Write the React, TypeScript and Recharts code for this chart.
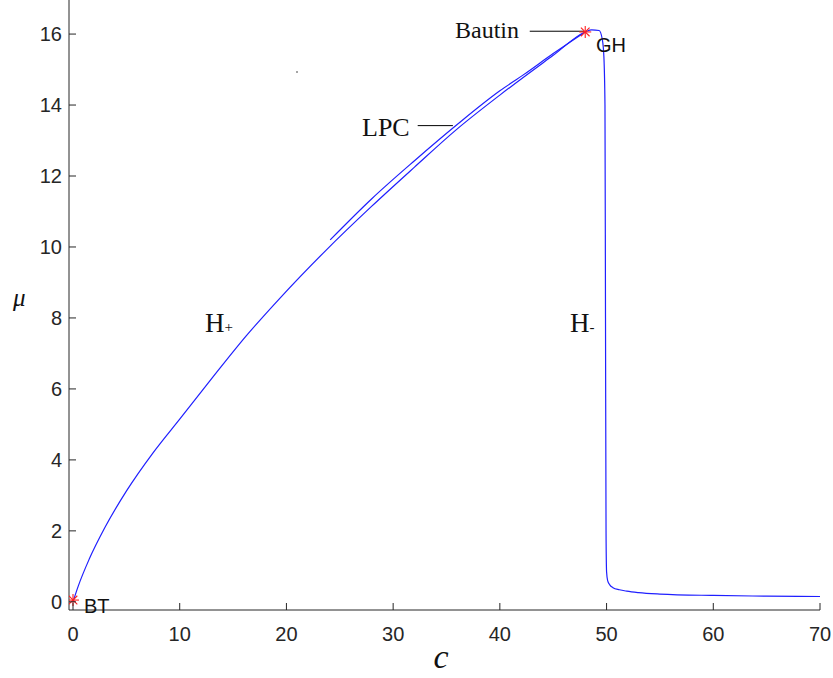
import { ComposedChart, Line, XAxis, YAxis, ReferenceLine } from "recharts";

// Hopf curve: BT -> GH (H+), then the steep drop (H-) and the flat tail
const hopfC = [0, 0.5, 1.5, 3, 5, 7.5, 10, 13.1, 16.25, 19.4, 23.75, 28, 32, 35.9, 40, 45, 48.0, 48.6, 49.3, 49.6, 49.75, 49.85, 49.9, 49.95, 50.0, 50.1, 50.3, 50.6, 51.2, 51.9, 53, 55, 60, 65, 70];
const hopfMu = [0, 0.45, 1.19, 2.1, 3.12, 4.2, 5.15, 6.33, 7.5, 8.56, 9.92, 11.15, 12.25, 13.3, 14.28, 15.4, 16.06, 16.12, 16.1, 15.85, 15.35, 14.0, 8.0, 2.0, 0.85, 0.6, 0.48, 0.4, 0.34, 0.3, 0.26, 0.22, 0.18, 0.16, 0.15];

// limit point of cycles branch, from the Bautin point down
const lpcC = [24.1, 28, 32, 36, 40, 42.2, 45, 48.0];
const lpcMu = [10.2, 11.36, 12.43, 13.45, 14.4, 14.85, 15.45, 16.06];

// special points
const btPoint = [{ c: 0, mu: 0.05 }];
const bautinPoint = [{ c: 48.0, mu: 16.06 }];

const xTicks = [0, 10, 20, 30, 40, 50, 60, 70];
const yTicks = [0, 2, 4, 6, 8, 10, 12, 14, 16];

const hopfData = hopfC.map((c, i) => ({ c, mu: hopfMu[i] }));
const lpcData = lpcC.map((c, i) => ({ c, mu: lpcMu[i] }));

const W = 833;
const H = 678;
const AXIS_X = 69;
const AXIS_Y = 610;
const INK = "#262626";
const BLUE = "#1f1fff";
const SANS = "'Liberation Sans', Arial, sans-serif";
const SERIF = "'Liberation Serif', 'Times New Roman', serif";

function XTick(props: any) {
  const x = props.x;
  return (
    <g>
      <line x1={x} x2={x} y1={AXIS_Y} y2={AXIS_Y - 7} stroke={INK} strokeWidth={1} />
      <text x={x} y={641} textAnchor="middle" fontSize={20} fontFamily={SANS} fill={INK}>
        {props.payload.value}
      </text>
    </g>
  );
}

function YTick(props: any) {
  const y = props.y;
  return (
    <g>
      <line x1={AXIS_X} x2={AXIS_X + 7} y1={y} y2={y} stroke={INK} strokeWidth={1} />
      <text x={62} y={y + 7} textAnchor="end" fontSize={20} fontFamily={SANS} fill={INK}>
        {props.payload.value}
      </text>
    </g>
  );
}

function Star(props: any) {
  const { cx, cy } = props;
  if (cx == null || cy == null) return null;
  const r = 6;
  const d = r * 0.72;
  return (
    <g stroke="#ff2020" strokeWidth={1.1}>
      <line x1={cx - r} x2={cx + r} y1={cy} y2={cy} />
      <line x1={cx} x2={cx} y1={cy - r} y2={cy + r} />
      <line x1={cx - d} x2={cx + d} y1={cy - d} y2={cy + d} />
      <line x1={cx - d} x2={cx + d} y1={cy + d} y2={cy - d} />
    </g>
  );
}

export default function App() {
  return (
    <div style={{ position: "absolute", left: 0, top: 0, width: W, height: H, background: "#fff" }}>
      <ComposedChart width={W} height={H} margin={{ top: 0, right: 13, left: 0, bottom: 0 }}>
        <XAxis
          type="number"
          dataKey="c"
          domain={[-0.375, 70]}
          ticks={xTicks}
          allowDataOverflow
          height={68}
          axisLine={{ stroke: INK }}
          tickLine={false}
          tick={<XTick />}
          interval={0}
        />
        <YAxis
          type="number"
          dataKey="mu"
          domain={[-0.23, 16.96]}
          ticks={yTicks}
          allowDataOverflow
          width={69}
          axisLine={{ stroke: INK }}
          tickLine={false}
          tick={<YTick />}
          interval={0}
        />
        <ReferenceLine
          segment={[{ x: 42.8, y: 16.08 }, { x: 47.9, y: 16.08 }]}
          stroke="#000"
          strokeWidth={1}
        />
        <ReferenceLine
          segment={[{ x: 32.3, y: 13.42 }, { x: 35.6, y: 13.42 }]}
          stroke="#000"
          strokeWidth={1}
        />
        <Line data={hopfData} dataKey="mu" type="monotone" stroke={BLUE} strokeWidth={1.2} dot={false} isAnimationActive={false} />
        <Line data={lpcData} dataKey="mu" type="monotone" stroke={BLUE} strokeWidth={1.2} dot={false} isAnimationActive={false} />
        <Line data={btPoint} dataKey="mu" stroke="none" dot={<Star />} isAnimationActive={false} />
        <Line data={bautinPoint} dataKey="mu" stroke="none" dot={<Star />} isAnimationActive={false} />
      </ComposedChart>
      <svg width={W} height={H} style={{ position: "absolute", left: 0, top: 0, pointerEvents: "none" }}>
        <text x={455} y={38} fontSize={24} fontFamily={SERIF} fill="#111">Bautin</text>
        <text x={596} y={52} fontSize={20} fontFamily={SANS} fill="#111">GH</text>
        <text x={362} y={136} fontSize={26} fontFamily={SERIF} fill="#111">LPC</text>
        <text x={205} y={332} fontSize={27} fontFamily={SERIF} fill="#111">
          H<tspan fontSize={15}>+</tspan>
        </text>
        <text x={570} y={332} fontSize={27} fontFamily={SERIF} fill="#111">
          H<tspan fontSize={15}>-</tspan>
        </text>
        <text x={84} y={613} fontSize={20} fontFamily={SANS} fill="#111">BT</text>
        <text x={13} y={306} fontSize={25} fontStyle="italic" fontFamily={SERIF} fill="#111">μ</text>
        <text x={441} y={668} fontSize={34} fontStyle="italic" fontFamily={SERIF} textAnchor="middle" fill="#111">c</text>
        <circle cx={297} cy={72} r={0.8} fill="#333" />
      </svg>
    </div>
  );
}
